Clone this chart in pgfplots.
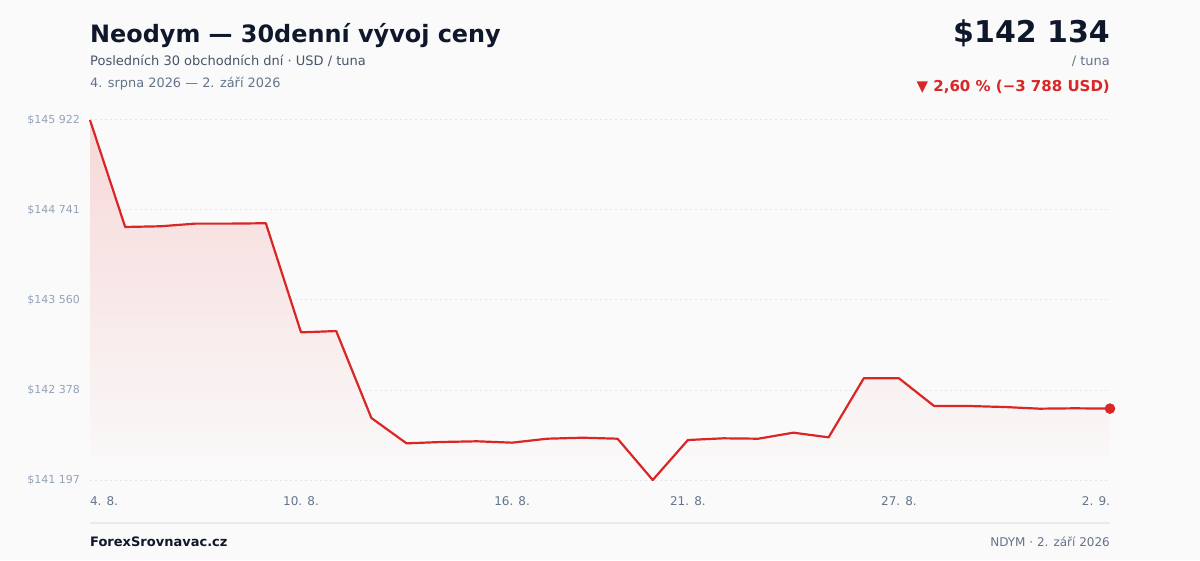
\documentclass[border=0pt]{standalone}
\usepackage{pgfplots}
\pgfplotsset{compat=1.18}
\usepackage{fontspec}
\setmainfont{DejaVu Sans}

\definecolor{bgc}{HTML}{FAFAFA}
\definecolor{linered}{HTML}{D92626}
\definecolor{fillred}{HTML}{F7D8D8}
\definecolor{ink}{HTML}{0F172A}
\definecolor{subgray}{HTML}{475569}
\definecolor{midgray}{HTML}{64748B}
\definecolor{lightgray}{HTML}{94A3B8}
\definecolor{gridc}{HTML}{E2E5EA}
\definecolor{sepc}{HTML}{E8EAED}

\begin{document}
\begin{tikzpicture}[x=1pt,y=1pt]
  % page background
  \fill[bgc] (0,0) rectangle (1200,560);

  % header
  \node[anchor=base west, inner sep=0pt, text=ink, font=\fontsize{23.9}{28}\selectfont\bfseries]
    at (90,517) {Neodym — 30denní vývoj ceny};
  \node[anchor=base west, inner sep=0pt, text=subgray, font=\fontsize{13}{16}\selectfont]
    at (90,494) {Posledních 30 obchodních dní · USD / tuna};
  \node[anchor=base west, inner sep=0pt, text=midgray, font=\fontsize{12.9}{16}\selectfont]
    at (90,472) {4. srpna 2026 — 2. září 2026};

  \node[anchor=base east, inner sep=0pt, text=ink, font=\fontsize{30}{34}\selectfont\bfseries]
    at (1110,517) {\$142 134};
  \node[anchor=base east, inner sep=0pt, text=midgray, font=\fontsize{13}{16}\selectfont]
    at (1110,494) {/ tuna};
  \node[anchor=base east, inner sep=0pt, text=linered, font=\fontsize{15}{18}\selectfont\bfseries]
    at (1110,468) {▼ 2,60 \% (−3 788 USD)};

  \begin{axis}[
    at={(90pt,80pt)}, anchor=south west,
    scale only axis,
    width=1020pt, height=360pt,
    xmin=0, xmax=29,
    ymin=141197, ymax=145922,
    scaled y ticks=false,
    axis line style={draw=none},
    tick style={draw=none},
    clip=false,
    ymajorgrids=true,
    grid style={gridc, line width=1pt, dash pattern=on 2pt off 3pt},
    ytick={141197,142378,143560,144741,145922},
    yticklabels={\$141 197,\$142 378,\$143 560,\$144 741,\$145 922},
    yticklabel style={text=lightgray, font=\fontsize{11}{13}\selectfont, inner sep=0pt, xshift=-10pt},
    xtick={0,6,12,17,23,29},
    xticklabels={\makebox[0pt][l]{4. 8.},10. 8.,16. 8.,21. 8.,27. 8.,\makebox[0pt][r]{2. 9.}},
    xticklabel style={text=midgray, font=\fontsize{12}{14}\selectfont, inner sep=0pt, yshift=-16pt},
  ]
    % area under the line
    \addplot[draw=none, top color=fillred, bottom color=bgc]
      coordinates {
        (0,145922) (1,144518) (2,144527) (3,144562) (4,144562)
        (5,144567) (6,143135) (7,143152) (8,142011) (9,141678)
        (10,141696) (11,141705) (12,141687) (13,141739) (14,141752)
        (15,141739) (16,141197) (17,141722) (18,141744) (19,141739)
        (20,141818) (21,141757) (22,142532) (23,142532) (24,142168)
        (25,142168) (26,142155) (27,142133) (28,142138) (29,142134)
      } \closedcycle;
    % price line
    \addplot[linered, line width=2.2pt, line join=round]
      coordinates {
        (0,145922) (1,144518) (2,144527) (3,144562) (4,144562)
        (5,144567) (6,143135) (7,143152) (8,142011) (9,141678)
        (10,141696) (11,141705) (12,141687) (13,141739) (14,141752)
        (15,141739) (16,141197) (17,141722) (18,141744) (19,141739)
        (20,141818) (21,141757) (22,142532) (23,142532) (24,142168)
        (25,142168) (26,142155) (27,142133) (28,142138) (29,142134)
      };
    % last price marker
    \addplot[linered, only marks, mark=*, mark size=5pt,
      mark options={solid, fill=linered, draw=linered, line width=0.5pt}]
      coordinates {(29,142134)};
  \end{axis}

  % footer separator and texts
  \draw[sepc, line width=1.5pt] (90,37) -- (1110,37);
  \node[anchor=base west, inner sep=0pt, text=ink, font=\fontsize{13}{16}\selectfont\bfseries]
    at (90,14) {ForexSrovnavac.cz};
  \node[anchor=base east, inner sep=0pt, text=midgray, font=\fontsize{12}{14}\selectfont]
    at (1110,14) {NDYM · 2. září 2026};
\end{tikzpicture}
\end{document}
